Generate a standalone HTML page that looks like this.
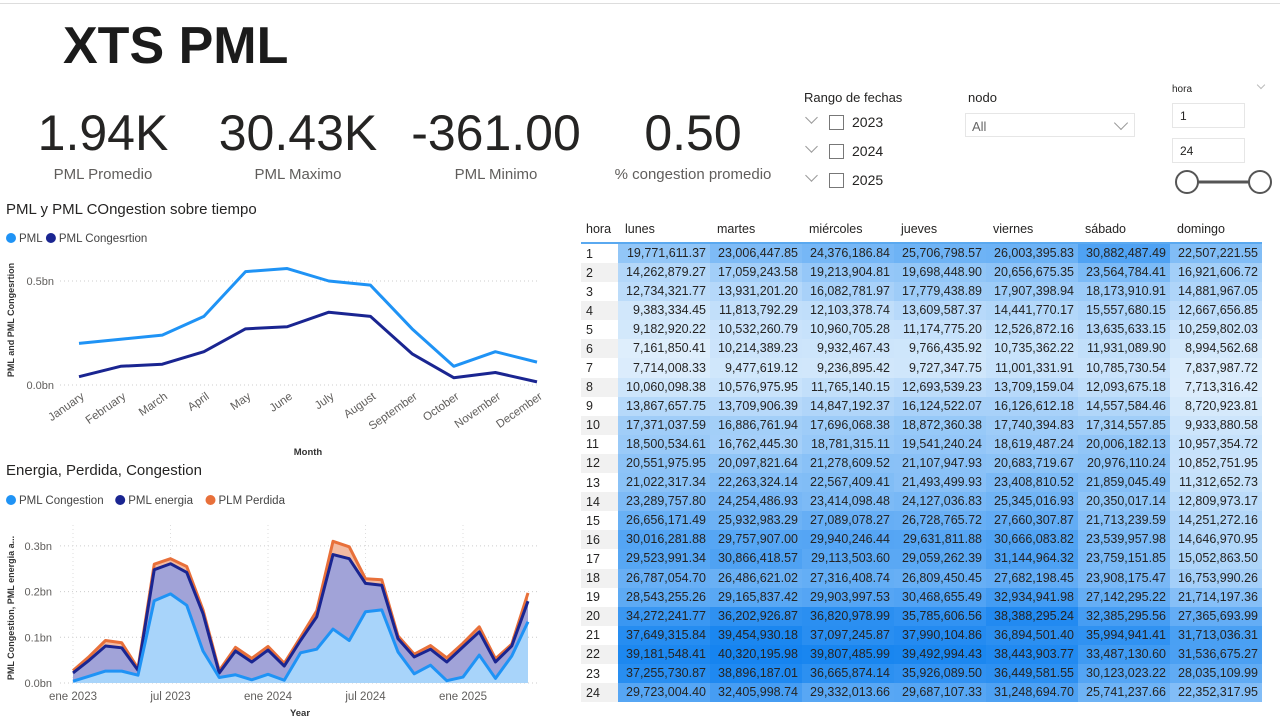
<!DOCTYPE html>
<html><head><meta charset="utf-8">
<style>
body{margin:0;width:1280px;height:720px;overflow:hidden;background:#fff;font-family:"Liberation Sans","DejaVu Sans",sans-serif;color:#252423;position:relative}
.abs{position:absolute}
.kpi{position:absolute;width:200px;text-align:center}
.kpi .v{font-size:50px;color:#252423;letter-spacing:0px}
.kpi .l{font-size:15px;color:#605e5c;margin-top:4px}
table{border-collapse:collapse;font-size:12.5px;table-layout:fixed;width:681px}
td{overflow:hidden;white-space:nowrap}
.chev{position:absolute;width:8px;height:8px;border-right:1px solid #999;border-bottom:1px solid #999;transform:rotate(45deg)}
</style></head><body>
<div class="abs" style="left:0;top:3px;width:1280px;height:1px;background:#ddd"></div>
<div class="abs" style="left:63px;top:16px;font-size:52px;font-weight:bold;color:#1b1b1b">XTS PML</div>

<div class="kpi" style="left:3px;top:104px"><div class="v">1.94K</div><div class="l">PML Promedio</div></div>
<div class="kpi" style="left:198px;top:104px"><div class="v">30.43K</div><div class="l">PML Maximo</div></div>
<div class="kpi" style="left:396px;top:104px"><div class="v">-361.00</div><div class="l">PML Minimo</div></div>
<div class="kpi" style="left:593px;top:104px"><div class="v">0.50</div><div class="l">% congestion promedio</div></div>

<div class="abs" style="left:804px;top:90px;font-size:13px">Rango de fechas</div>
<div id="years"></div>
<div class="abs" style="left:968px;top:90px;font-size:13px">nodo</div>
<div class="abs" style="left:965px;top:113px;width:170px;height:24px;border:1px solid #e6e6e6;box-sizing:border-box;font-size:13px;color:#666;padding:5px 0 0 6px">All<span class="chev" style="left:150px;top:4px;width:9px;height:9px"></span></div>
<div class="abs" style="left:1172px;top:84px;font-size:10px">hora</div>
<div class="abs chev" style="left:1258px;top:82px;width:5px;height:5px;border-color:#bbb"></div>
<div class="abs" style="left:1172px;top:103px;width:73px;height:25px;border:1px solid #e6e6e6;box-sizing:border-box;font-size:12px;padding:5px 0 0 7px">1</div>
<div class="abs" style="left:1172px;top:138px;width:73px;height:25px;border:1px solid #e6e6e6;box-sizing:border-box;font-size:12px;padding:5px 0 0 7px">24</div>
<svg class="abs" style="left:1170px;top:165px" width="110" height="36">
<line x1="17" y1="17" x2="90" y2="17" stroke="#555" stroke-width="3"/>
<circle cx="17" cy="17" r="11" fill="#fff" stroke="#555" stroke-width="2"/>
<circle cx="90" cy="17" r="11" fill="#fff" stroke="#555" stroke-width="2"/>
</svg>

<div class="abs" style="left:6px;top:201px;font-size:15px">PML y PML COngestion sobre tiempo</div>
<div class="abs" style="left:6px;top:462px;font-size:15px">Energia, Perdida, Congestion</div>
<svg id="c1" class="abs" style="left:0;top:0" width="560" height="720"></svg>

<div class="abs" style="left:581px;top:215px"><table id="tbl"><colgroup><col style="width:37px"><col style="width:92px"><col style="width:92px"><col style="width:92px"><col style="width:92px"><col style="width:92px"><col style="width:92px"><col style="width:92px"></colgroup><tbody id="tb"></tbody></table></div>

<script>
const NS='http://www.w3.org/2000/svg';
// ---- line chart data
const months=['January','February','March','April','May','June','July','August','September','October','November','December'];
const pmlVals=[0.20,0.22,0.24,0.33,0.545,0.56,0.50,0.48,0.27,0.09,0.16,0.11];
const congVals=[0.04,0.09,0.10,0.16,0.27,0.28,0.35,0.33,0.15,0.035,0.06,0.015];
const lineTicks=[0,0.5];
// ---- area chart data (bn)
const areaCong=[0.004,0.015,0.026,0.026,0.017,0.18,0.195,0.17,0.07,0.012,0.018,0.007,0.019,0.006,0.066,0.074,0.118,0.093,0.156,0.16,0.068,0.02,0.039,0.005,0.013,0.061,0.01,0.059,0.134];
const areaEnergia=[0.018,0.035,0.055,0.051,0.011,0.068,0.066,0.072,0.082,0.010,0.052,0.039,0.053,0.031,0.027,0.071,0.163,0.179,0.062,0.054,0.029,0.037,0.035,0.041,0.066,0.051,0.036,0.022,0.045];
const areaPerdida=[0.005,0.008,0.012,0.011,0.004,0.012,0.011,0.013,0.008,0.005,0.008,0.008,0.008,0.006,0.007,0.013,0.029,0.026,0.010,0.012,0.006,0.006,0.008,0.009,0.008,0.011,0.007,0.004,0.018];
const areaTicks=[0,0.1,0.2,0.3];
const areaXLabels=[[0,'ene 2023'],[6,'jul 2023'],[12,'ene 2024'],[18,'jul 2024'],[24,'ene 2025']];
// ---- table data
const days=['lunes','martes','miércoles','jueves','viernes','sábado','domingo'];
const tableRows=[
[19771611.37,23006447.85,24376186.84,25706798.57,26003395.83,30882487.49,22507221.55],
[14262879.27,17059243.58,19213904.81,19698448.90,20656675.35,23564784.41,16921606.72],
[12734321.77,13931201.20,16082781.97,17779438.89,17907398.94,18173910.91,14881967.05],
[9383334.45,11813792.29,12103378.74,13609587.37,14441770.17,15557680.15,12667656.85],
[9182920.22,10532260.79,10960705.28,11174775.20,12526872.16,13635633.15,10259802.03],
[7161850.41,10214389.23,9932467.43,9766435.92,10735362.22,11931089.90,8994562.68],
[7714008.33,9477619.12,9236895.42,9727347.75,11001331.91,10785730.54,7837987.72],
[10060098.38,10576975.95,11765140.15,12693539.23,13709159.04,12093675.18,7713316.42],
[13867657.75,13709906.39,14847192.37,16124522.07,16126612.18,14557584.46,8720923.81],
[17371037.59,16886761.94,17696068.38,18872360.38,17740394.83,17314557.85,9933880.58],
[18500534.61,16762445.30,18781315.11,19541240.24,18619487.24,20006182.13,10957354.72],
[20551975.95,20097821.64,21278609.52,21107947.93,20683719.67,20976110.24,10852751.95],
[21022317.34,22263324.14,22567409.41,21493499.93,23408810.52,21859045.49,11312652.73],
[23289757.80,24254486.93,23414098.48,24127036.83,25345016.93,20350017.14,12809973.17],
[26656171.49,25932983.29,27089078.27,26728765.72,27660307.87,21713239.59,14251272.16],
[30016281.88,29757907.00,29940246.44,29631811.88,30666083.82,23539957.98,14646970.95],
[29523991.34,30866418.57,29113503.60,29059262.39,31144964.32,23759151.85,15052863.50],
[26787054.70,26486621.02,27316408.74,26809450.45,27682198.45,23908175.47,16753990.26],
[28543255.26,29165837.42,29903997.53,30468655.49,32934941.98,27142295.22,21714197.36],
[34272241.77,36202926.87,36820978.99,35785606.56,38388295.24,32385295.56,27365693.99],
[37649315.84,39454930.18,37097245.87,37990104.86,36894501.40,35994941.41,31713036.31],
[39181548.41,40320195.98,39807485.99,39492994.43,38443903.77,33487130.60,31536675.27],
[37255730.87,38896187.01,36665874.14,35926089.50,36449581.55,30123023.22,28035109.99],
[29723004.40,32405998.74,29332013.66,29687107.33,31248694.70,25741237.66,22352317.95]];

const svg=document.getElementById('c1');
function mk(tag,attrs,parent){const e=document.createElementNS(NS,tag);for(const k in attrs)e.setAttribute(k,attrs[k]);(parent||svg).appendChild(e);return e;}
function txt(x,y,s,attrs){const t=mk('text',Object.assign({x:x,y:y,'font-size':11,fill:'#605e5c','font-family':'Liberation Sans, sans-serif'},attrs||{}));t.textContent=s;return t;}

// legends
function legend(y,items){let x=6;items.forEach(([name,col])=>{const c=mk('circle',{cx:x+5,cy:y,r:5,fill:col});


const t=txt(x+13,y+4,name,{fill:'#444','font-size':11.5});


x+=13+name.length*6.3+8;});}
legend(238,[['PML','#1f93f5'],['PML Congesrtion','#1a2591']]);
legend(500,[['PML Congestion','#1f93f5'],['PML energia','#1a2591'],['PLM Perdida','#e8703a']]);

// ---- line chart
const lx=i=>79+i*(537-79)/11, ly=v=>385-v*208;
lineTicks.forEach(t=>{const g=mk('line',{x1:60,x2:540,y1:ly(t),y2:ly(t),stroke:'#ccc','stroke-dasharray':'1 3'});


const l=txt(54,ly(t)+4,t.toFixed(1)+'bn',{'text-anchor':'end'});

});
months.forEach((m,i)=>{const t=txt(lx(i)+6,398,m,{'text-anchor':'end',transform:`rotate(-35 ${lx(i)+6} 398)`,'font-size':11.5});

});
[[pmlVals,'#1f93f5','pml-line'],[congVals,'#1a2591','congestion-line']].forEach(([vals,col,nm])=>{
const p=mk('polyline',{points:vals.map((v,i)=>lx(i)+','+ly(v)).join(' '),fill:'none',stroke:col,'stroke-width':3,'stroke-linejoin':'round'});

});
let yt=txt(14,320,'PML and PML Congesrtion',{'text-anchor':'middle','font-size':9,'font-weight':'bold',fill:'#333',transform:'rotate(-90 14 320)'});


let xt=txt(308,455,'Month',{'text-anchor':'middle','font-size':9.5,'font-weight':'bold',fill:'#333'});



// ---- area chart
const ax=i=>73+i*16.25, ay=v=>683-v*457;
areaTicks.forEach(t=>{const g=mk('line',{x1:60,x2:540,y1:ay(t),y2:ay(t),stroke:'#ccc','stroke-dasharray':'1 3'});


const l=txt(52,ay(t)+4,t.toFixed(1)+'bn',{'text-anchor':'end'});

});
areaXLabels.forEach(([i,s])=>{const g=mk('line',{x1:ax(i),x2:ax(i),y1:525,y2:683,stroke:'#ddd','stroke-dasharray':'1 3'});


const t=txt(ax(i),700,s,{'text-anchor':'middle','font-size':11.5});

});
const c1=areaCong, c2=areaCong.map((v,i)=>v+areaEnergia[i]), c3=c2.map((v,i)=>v+areaPerdida[i]);
const base=areaCong.map(()=>0);
function band(top,bot,fill,nm){const pts=top.map((v,i)=>ax(i)+','+ay(v)).concat(bot.map((v,i)=>ax(i)+','+ay(v)).reverse());
const p=mk('polygon',{points:pts.join(' '),fill:fill});

}
band(c3,c2,'#f2bba3','perdida-area');band(c2,c1,'#a1a3d8','energia-area');band(c1,base,'#a8d4fa','congestion-area');
[[c3,'#e8703a','perdida-line'],[c2,'#1a2591','energia-line'],[c1,'#1f93f5','congestion-area-line']].forEach(([vals,col,nm])=>{
const p=mk('polyline',{points:vals.map((v,i)=>ax(i)+','+ay(v)).join(' '),fill:'none',stroke:col,'stroke-width':3,'stroke-linejoin':'round'});

});
yt=txt(14,608,'PML Congestion, PML energia a...',{'text-anchor':'middle','font-size':9,'font-weight':'bold',fill:'#333',transform:'rotate(-90 14 608)'});


xt=txt(300,716,'Year',{'text-anchor':'middle','font-size':9.5,'font-weight':'bold',fill:'#333'});



// ---- year slicer
const yrs=document.getElementById('years');
['2023','2024','2025'].forEach((y,i)=>{const d=document.createElement('div');
d.className='abs';d.style.cssText=`left:804px;top:${112+i*29}px;font-size:14px;height:20px;width:80px`;
d.innerHTML=`<span class="chev" style="left:3px;top:1px"></span><span style="position:absolute;left:25px;top:3px;width:13px;height:13px;border:1px solid #777"></span><span style="position:absolute;left:48px;top:2px">${y}</span>`;


yrs.appendChild(d);});

// ---- table
const all=tableRows.flat(), mn=Math.min(...all), mx=Math.max(...all);
function col(v){const t=(v-mn)/(mx-mn);const a=[222,238,252],b=[22,132,240];return `rgb(${a.map((c,i)=>Math.round(c+(b[i]-c)*t)).join(',')})`;}
const tb=document.getElementById('tb');
const hr=document.createElement('tr');
hr.style.cssText='height:28px;border-bottom:2px solid #5aa9f0';


hr.innerHTML='<td style="padding-left:5px">hora</td>'+days.map(d=>`<td style="padding-left:7px;text-align:left">${d}</td>`).join('');
tb.appendChild(hr);
tableRows.forEach((r,i)=>{const tr=document.createElement('tr');tr.style.height='19.1px';


let s=`<td style="padding-left:5px;background:${i%2?'#f1f1f1':'#fff'}">${i+1}</td>`;
r.forEach(v=>{s+=`<td style="background:${col(v)};text-align:right;padding:0 4px 0 0;line-height:19px">${v.toLocaleString('en-US',{minimumFractionDigits:2,maximumFractionDigits:2})}</td>`;});
tr.innerHTML=s;tb.appendChild(tr);});
</script>
</body></html>
